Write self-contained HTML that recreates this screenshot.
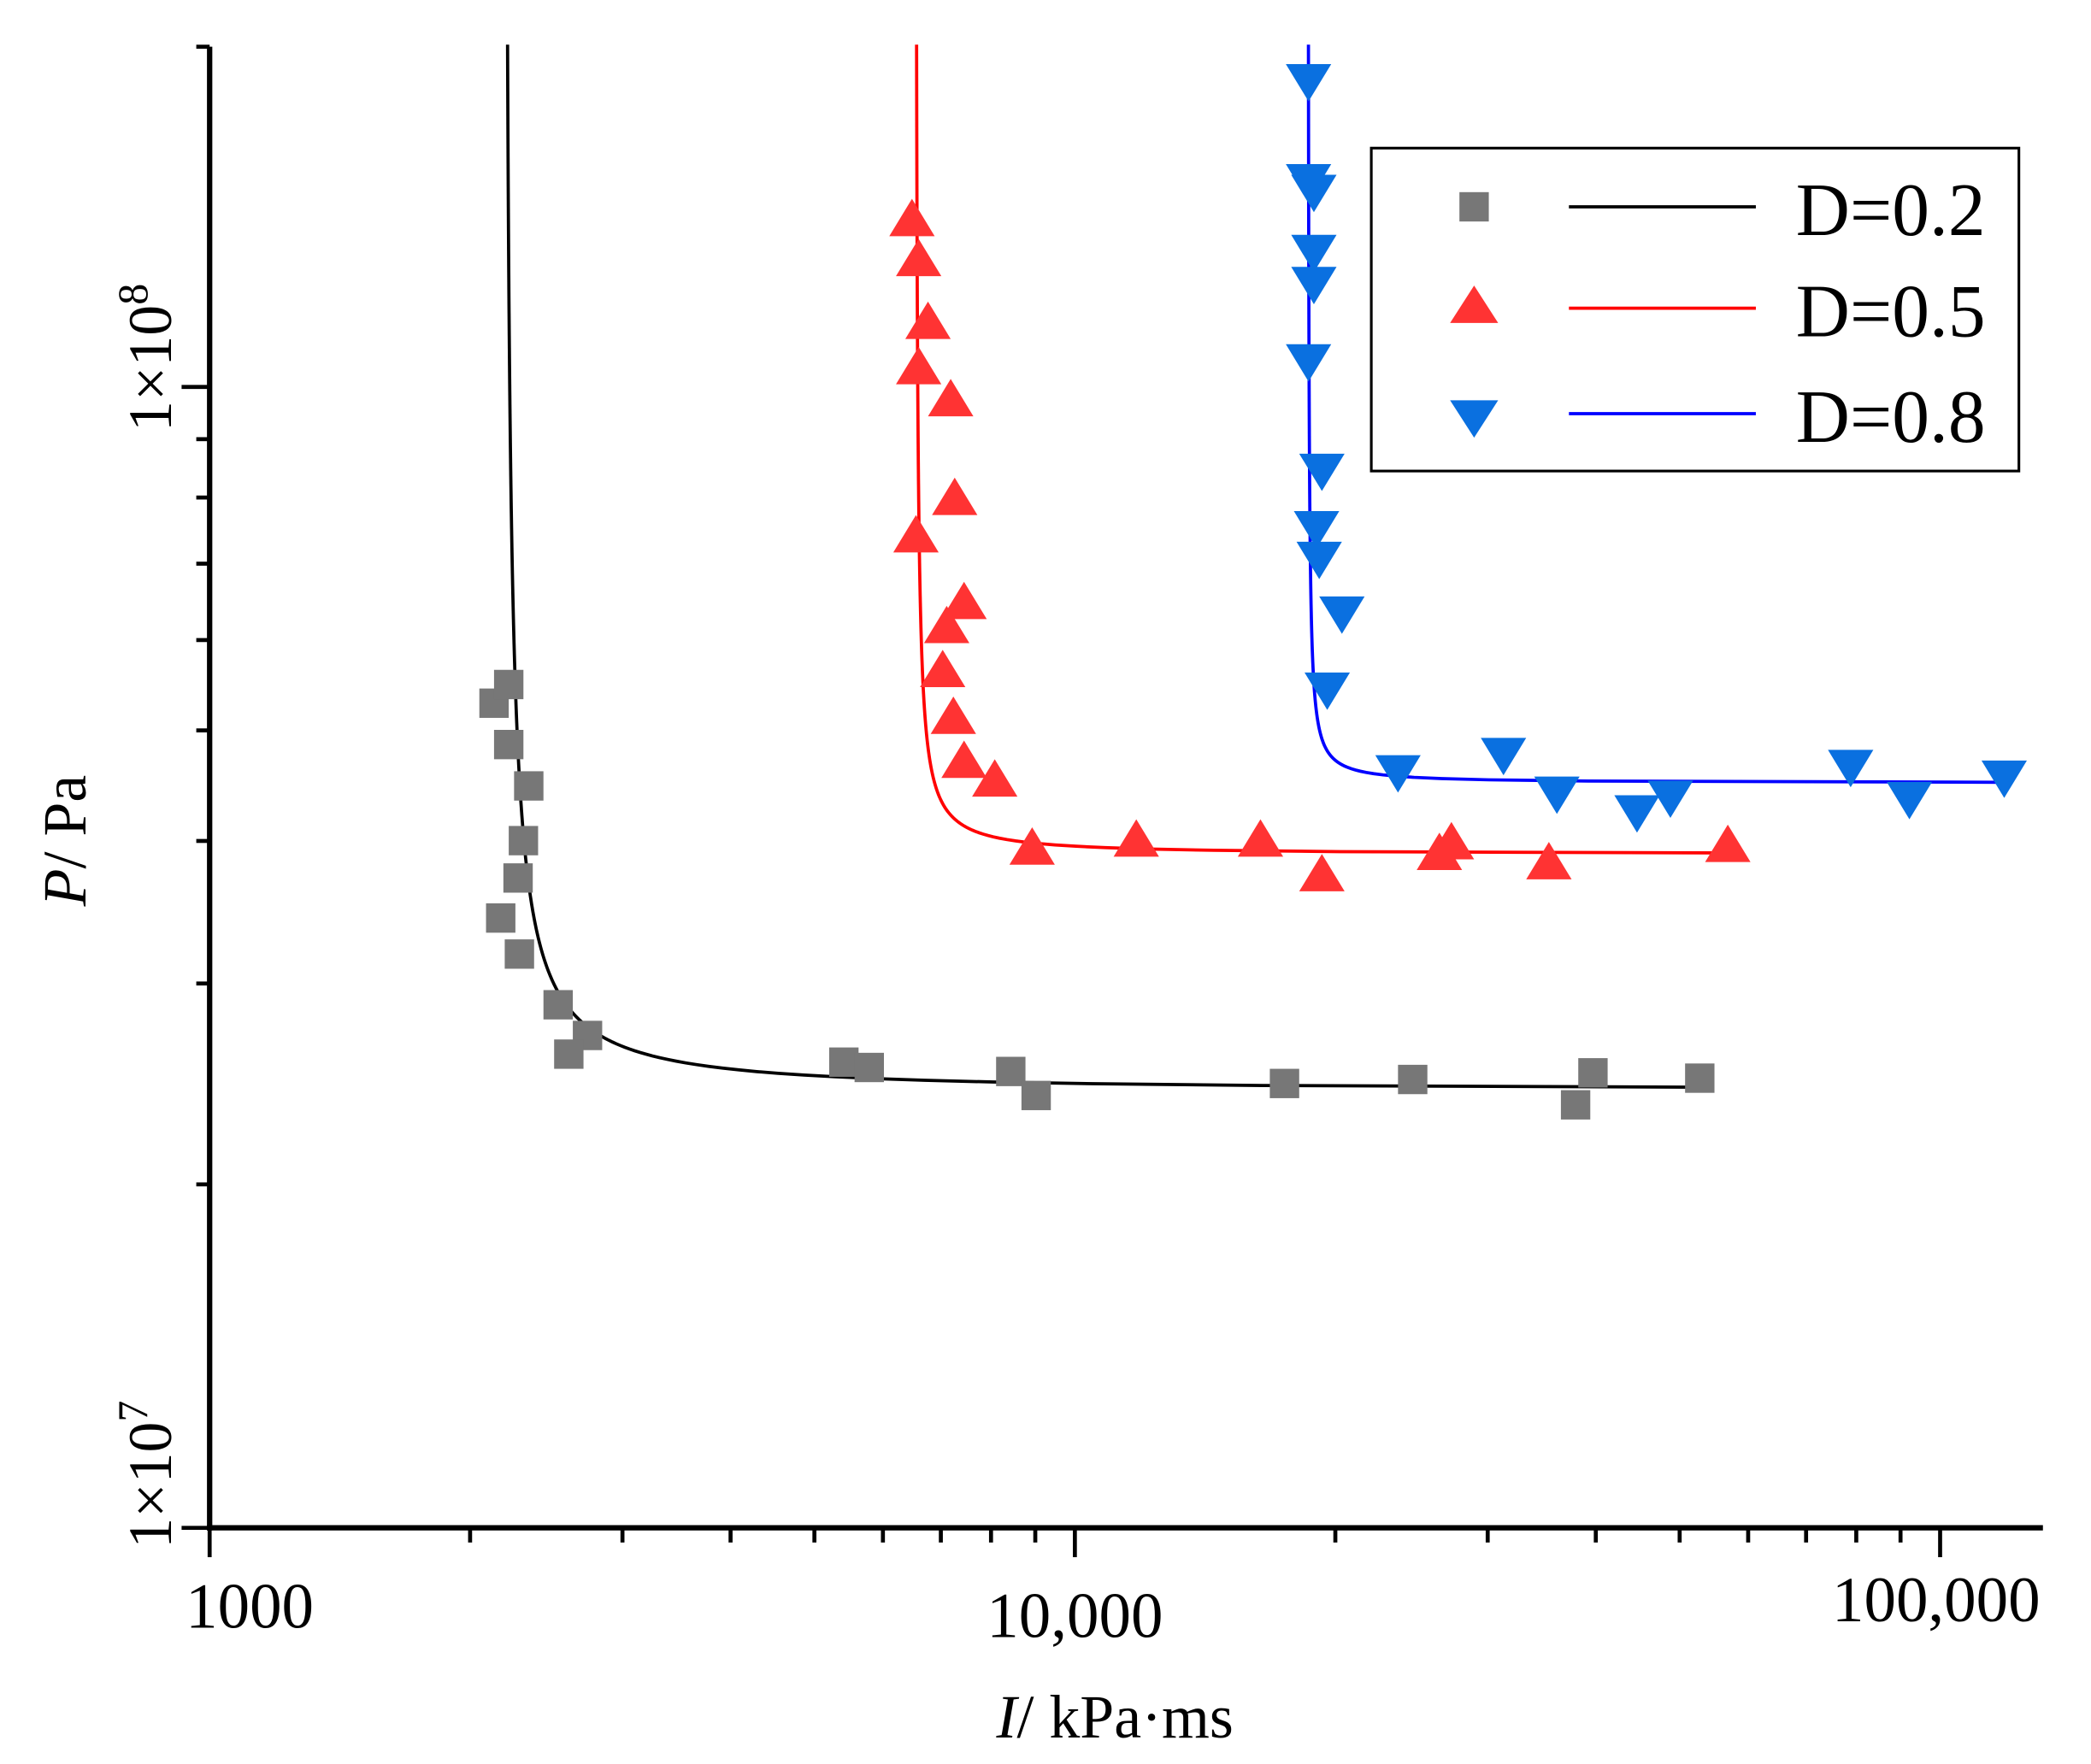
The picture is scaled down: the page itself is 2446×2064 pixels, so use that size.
<!DOCTYPE html>
<html><head><meta charset="utf-8"><style>
html,body{margin:0;padding:0;background:#fff;}
svg{display:block;}
text{font-family:"Liberation Serif",serif;fill:#000;}
</style></head><body>
<svg id="s" width="2446" height="2064" viewBox="0 0 1566 1322" preserveAspectRatio="none" xmlns="http://www.w3.org/2000/svg">
<g id="ticks" stroke="#000" stroke-width="3"></g>
<line x1="157" y1="35" x2="157" y2="1147" stroke="#000" stroke-width="4"/>
<line x1="155" y1="1145" x2="1530" y2="1145" stroke="#000" stroke-width="4"/>
<g id="curves" fill="none" stroke-width="2.4"></g>
<g id="pts"></g>
<text x="187" y="1220" font-size="48" text-anchor="middle">1000</text>
<text x="805" y="1227" font-size="48" text-anchor="middle">10,000</text>
<text x="1450" y="1215" font-size="48" text-anchor="middle">100,000</text>
<text x="835" y="1302" font-size="46" text-anchor="middle"><tspan font-style="italic">I</tspan>/ kPa·ms</text>
<text transform="translate(128,268) rotate(-90)" font-size="46" text-anchor="middle">1×10<tspan dy="-18" font-size="32">8</tspan></text>
<text transform="translate(128,1105) rotate(-90)" font-size="46" text-anchor="middle">1×10<tspan dy="-18" font-size="32">7</tspan></text>
<text transform="translate(64,630) rotate(-90)" font-size="46" text-anchor="middle"><tspan font-style="italic">P</tspan>/ Pa</text>
<rect x="1027" y="111" width="485" height="242" fill="#fff" stroke="#000" stroke-width="2"/>
<rect x="1093" y="144" width="22" height="22" fill="#777"/>
<line x1="1175" y1="155" x2="1315" y2="155" stroke="#000" stroke-width="2.4"/>
<text x="1345" y="176" font-size="56">D=0.2</text>
<polygon points="1104,214 1122,242 1086,242" fill="#ff3333"/>
<line x1="1175" y1="231" x2="1315" y2="231" stroke="#f00" stroke-width="2.4"/>
<text x="1345" y="252" font-size="56">D=0.5</text>
<polygon points="1086,300 1122,300 1104,328" fill="#0a70e0"/>
<line x1="1175" y1="310" x2="1315" y2="310" stroke="#00f" stroke-width="2.4"/>
<text x="1345" y="331" font-size="56">D=0.8</text>
</svg>
<script>
var NS="http://www.w3.org/2000/svg";
function el(p,t,a){var e=document.createElementNS(NS,t);for(var k in a)e.setAttribute(k,a[k]);document.getElementById(p).appendChild(e);}
function X(I){return 157+648*(Math.log10(I)-3);}
function Y(P){return 1145-855*Math.log10(P);}
for(var d=3;d<=5;d++){for(var m=1;m<10;m++){var v=m*Math.pow(10,d);var x=X(v);if(x>1530)break;
 el("ticks","line",{x1:x,y1:1145,x2:x,y2:1145+(m==1?22:11)});}}
for(var d=0;d<=1;d++){for(var m=1;m<10;m++){var v=m*Math.pow(10,d);var y=Y(v);if(y<34)break;
 el("ticks","line",{x1:157,y1:y,x2:157-(m==1?21:10),y2:y});}}
el("ticks","line",{x1:157,y1:35,x2:147,y2:35});
function curve(I0,P0,K,Iend,col){var d="";var first=true;
 for(var i=0;i<=600;i++){var P=Math.pow(10,1.3-i*(1.3-Math.log10(P0+K/(Iend-I0)))/600);var I=I0+K/(P-P0);
  if(I>Iend)I=Iend; d+=(first?"M":"L")+X(I).toFixed(2)+","+Y(P).toFixed(2);first=false;}
 el("curves","path",{d:d,stroke:col});}
curve(2200,2.43,170,53000,"#000");
curve(6550,3.9,200,57000,"#f00");
curve(18600,4.5,290,119000,"#00f");
var sq=[[370,527],[381,513],[381,558],[396,589],[392,630],[388,658],[375,688],[389,715],[418,753],[440,776],[426,790],[632,796],[651,800],[757,803],[776,821],[962,812],[1058,809],[1180,828],[1193,804],[1273,808]];
sq.forEach(function(p){el("pts","rect",{x:p[0]-11,y:p[1]-11,width:22,height:22,fill:"#777"});});
var up=[[683,165],[688,195],[695,242],[688,276],[712,300],[715,374],[686,402],[722,452],[709,470],[706,503],[714,538],[722,571],[745,585],[773,636],[851,630],[944,630],[990,656],[1078,640],[1087,632],[1160,647],[1294,634]];
up.forEach(function(p){el("pts","polygon",{points:(p[0])+","+(p[1]-16)+" "+(p[0]+17)+","+(p[1]+12)+" "+(p[0]-17)+","+(p[1]+12),fill:"#ff3333"});});
var dn=[[980,60],[980,135],[984,143],[984,188],[984,212],[980,270],[990,352],[986,395],[988,418],[1005,459],[994,516],[1047,578],[1126,565],[1166,594],[1226,608],[1251,597],[1386,574],[1430,598],[1501,582]];
dn.forEach(function(p){el("pts","polygon",{points:(p[0]-17)+","+(p[1]-12)+" "+(p[0]+17)+","+(p[1]-12)+" "+p[0]+","+(p[1]+16),fill:"#0a70e0"});});
</script>
</body></html>
